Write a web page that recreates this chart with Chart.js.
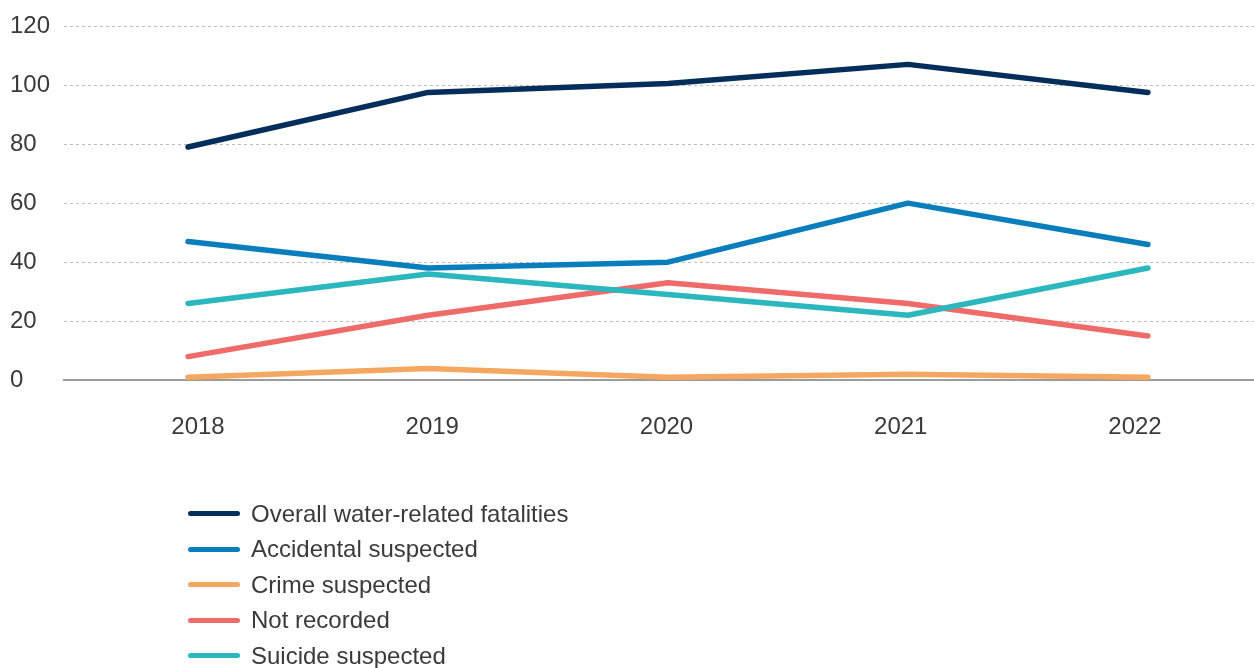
<!DOCTYPE html>
<html>
<head>
<meta charset="utf-8">
<script src="https://cdn.jsdelivr.net/npm/chart.js@4/dist/chart.umd.min.js"></script>
<style>
  body { margin: 0; background: #fff; }
  #wrap { position: relative; width: 1254px; height: 668px; }
  #legend { position: absolute; left: 188px; top: 496px; font-family: "Liberation Sans", Arial, sans-serif; font-size: 24px; color: #3a3a3a; }
  .item { height: 35.5px; display: flex; align-items: center; }
  .swatch { width: 52px; height: 5px; border-radius: 3px; margin-right: 11px; }
</style>
</head>
<body>
<div id="wrap">
  <canvas id="myChart" width="1254" height="668"></canvas>
  <div id="legend"></div>
</div>
<script>
const years = [2018, 2019, 2020, 2021, 2022];
const overallVals = [79, 97.5, 100.5, 107, 97.5];
const accidentalVals = [47, 38, 40, 60, 46];
const crimeVals = [1, 4, 1, 2, 1];
const notRecordedVals = [8, 22, 33, 26, 15];
const suicideVals = [26, 36, 29, 22, 38];

const seriesNames = ['Overall water-related fatalities', 'Accidental suspected', 'Crime suspected', 'Not recorded', 'Suicide suspected'];
const seriesVals = [overallVals, accidentalVals, crimeVals, notRecordedVals, suicideVals];
const seriesColors = ['#032d5a', '#0a7dbd', '#f5a661', '#ee6b69', '#2bb7bd'];

const font = { family: '"Liberation Sans", Arial, sans-serif', size: 24 };

function toPoints(vals) {
    return vals.map((v, i) => ({ x: years[i], y: v }));
}

var datasets = [];
// draw overall on top of the others
for (let i = seriesVals.length - 1; i >= 0; i--) {
    datasets.push({
        label: seriesNames[i],
        data: toPoints(seriesVals[i]),
        borderColor: seriesColors[i],
        borderWidth: 5.5,
        pointRadius: 0,
        borderCapStyle: 'round',
        borderJoinStyle: 'round',
        fill: false,
        xAxisID: 'x',
    });
}

var mychart = new Chart('myChart', {
    type: 'line',
    data: { datasets: datasets },
    options: {
        responsive: false,
        animation: false,
        layout: { padding: { left: 10, top: 26, right: 0, bottom: 193 } },
        plugins: { legend: { display: false }, tooltip: { enabled: false } },
        scales: {
            x: {
                type: 'linear',
                display: false,
                min: 2017.483,
                max: 2022.442,
            },
            xl: {
                type: 'linear',
                position: 'bottom',
                min: 2017.428,
                max: 2022.508,
                afterBuildTicks: (scale) => { scale.ticks = years.map(v => ({ value: v })); },
                ticks: {
                    font: font,
                    color: '#3a3a3a',
                    padding: 33,
                    callback: (v) => String(v),
                },
                grid: { display: false, drawTicks: false },
                border: { display: true, color: '#9b9b9b', width: 2 },
            },
            y: {
                min: 0,
                max: 120,
                afterFit: (scale) => { scale.width = 54; },
                ticks: {
                    stepSize: 20,
                    font: font,
                    color: '#3a3a3a',
                    crossAlign: 'far',
                    padding: 0,
                },
                grid: { color: '#bdbdbd', lineWidth: 1, drawTicks: false },
                border: { display: false, dash: [3, 3] },
            },
        },
    },
});

var legendDiv = document.getElementById('legend');
seriesNames.forEach((name, i) => {
    let row = document.createElement('div');
    row.className = 'item';
    row.innerHTML = '<span class="swatch" style="background:' + seriesColors[i] + '"></span><span>' + name + '</span>';
    legendDiv.appendChild(row);
});
</script>
</body>
</html>
